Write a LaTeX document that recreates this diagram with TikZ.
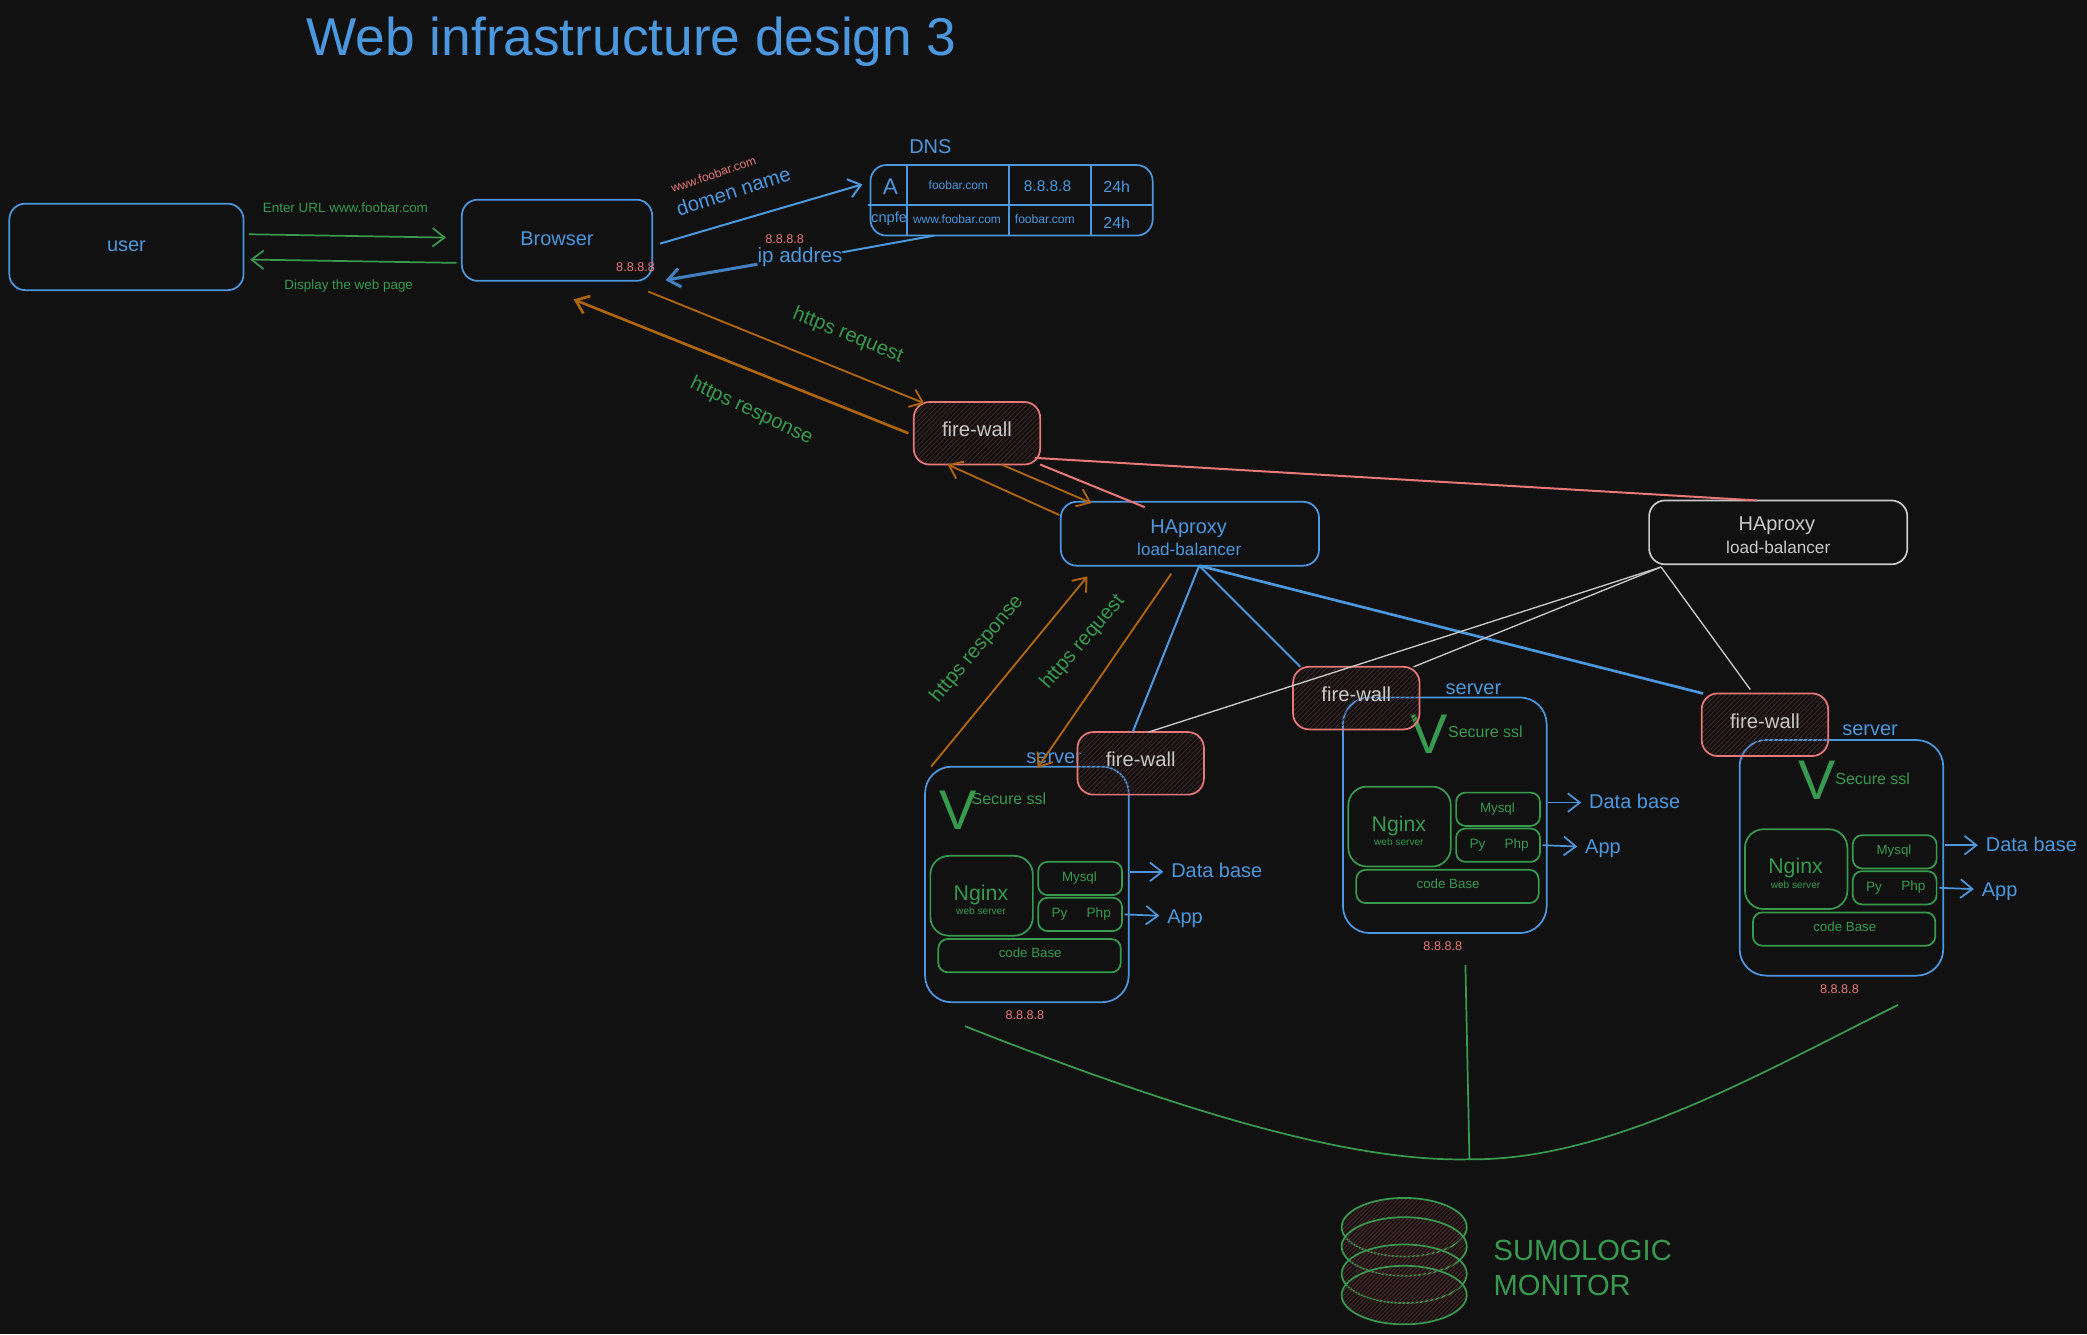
\documentclass[tikz,border=0pt]{standalone}
\usepackage{fontspec}
\setmainfont{Liberation Sans}
\usetikzlibrary{arrows.meta,patterns.meta,shapes.geometric}
\definecolor{bgdark}{HTML}{111111}
\definecolor{bluec}{HTML}{4B98DF}
\definecolor{greenc}{HTML}{379A4E}
\definecolor{redc}{HTML}{E87878}
\definecolor{orangec}{HTML}{B0650A}
\definecolor{whitec}{HTML}{C9C9C9}
\definecolor{hatchc}{HTML}{462626}
\tikzset{
  x=1pt,y=-1pt,
  >={Straight Barb[length=9pt,width=14pt]},
  txt/.style={font=\fontsize{#1}{#1}\selectfont,inner sep=0pt,outer sep=0pt},
  rbox/.style={draw,line width=1.3pt,rounded corners=#1,inner sep=0pt,outer sep=0pt},
  rbox/.default=12pt,
  bluebox/.style={rbox,draw=bluec,text=bluec},
  greenbox/.style={rbox=7pt,draw=greenc,text=greenc},
  firewall/.style={rbox,draw=redc,text=whitec,minimum width=95pt,minimum height=47pt,text depth=6pt,
    font=\fontsize{15.2}{15.2}\selectfont,
    pattern={Lines[angle=45,distance=2.6pt,line width=.6pt]},pattern color=hatchc},
  disk/.style={ellipse,draw=greenc,line width=1.3pt,minimum width=94pt,minimum height=44pt,inner sep=0pt,
    pattern={Lines[angle=45,distance=2.2pt,line width=.8pt]},pattern color=hatchc},
  greenline/.style={draw=greenc,line width=1.3pt},
  blueline/.style={draw=bluec,line width=1.5pt},
  thickblue/.style={draw=bluec!85!black,line width=2.3pt},
  orangeline/.style={draw=orangec,line width=1.4pt},
  whiteline/.style={draw=whitec,line width=1pt},
  redline/.style={draw=redc,line width=1.5pt},
}
\begin{document}
\begin{tikzpicture}
\useasboundingbox[fill=bgdark] (0,0) rectangle (1568,1002.3);
\node[txt=40,text=bluec] (title) at (474.5,31.5) {Web infrastructure design 3};

% user and browser
\node[bluebox,minimum width=176pt,minimum height=65pt] (user) at (95,185.5) {};
\node[txt=15,text=bluec] (usertxt) at (95,185) {user};
\node[bluebox,minimum width=143pt,minimum height=61pt] (browser) at (418.5,180.5) {};
\node[txt=15,text=bluec] (browsertxt) at (418.5,179.5) {Browser};
\node[txt=9.5,text=redc] (browserip) at (477.5,201) {8.8.8.8};
\draw[->,greenline] ([shift={(4,-9.5)}]user.east) -- ([shift={(-12,-2)}]browser.west);
\draw[->,greenline] ([shift={(-4,17)}]browser.west) -- ([shift={(5,9.5)}]user.east);
\node[txt=10.1,text=greenc] (urltxt) at (259.5,156) {Enter URL www.foobar.com};
\node[txt=10.1,text=greenc] (pagetxt) at (262,215) {Display the web page};

% dns
\node[txt=15,text=bluec] (dnstxt) at (699,110) {DNS};
\node[bluebox,minimum width=212pt,minimum height=53pt] (dns) at (760,150.5) {};
\foreach \dx in {27.5,104,166}
  \draw[blueline] ([xshift=\dx]dns.north west) -- ([xshift=\dx]dns.south west);
\draw[blueline] ([shift={(-2,3.5)}]dns.west) -- ([shift={(0,3.5)}]dns.east);
\node[txt=17,text=bluec] (dnsa) at (669,140) {A};
\node[txt=9,text=bluec] (dnsb) at (720,139) {foobar.com};
\node[txt=11.6,text=bluec] (dnsc) at (787,140) {8.8.8.8};
\node[txt=12,text=bluec] (dnsd) at (839,140) {24h};
\node[txt=11,text=bluec] (dnse) at (668,164) {cnpfe};
\node[txt=9,text=bluec] (dnsf) at (719,164.5) {www.foobar.com};
\node[txt=9.1,text=bluec] (dnsg) at (785,165) {foobar.com};
\node[txt=12,text=bluec] (dnsh) at (839,167) {24h};

\node[txt=15.3,text=bluec,rotate=18] (domen) at (551,143.5) {domen name};
\node[txt=9.1,text=redc,rotate=19] (wwwtxt) at (536,131) {www.foobar.com};
\draw[->,blueline] ([shift={(6,2.5)}]browser.east) -- ([shift={(-6,-12)}]dns.west);
\node[txt=15.5,text=bluec] (ipaddr) at (601,193.5) {ip addres};
\node[txt=9.5,text=redc] (iptxt) at (589.5,180) {8.8.8.8};
\draw[blueline] ([xshift=-58]dns.south) -- ([shift={(0,-4)}]ipaddr.east);
\draw[->,thickblue] ([shift={(0,5)}]ipaddr.west) -- ([shift={(10,30)}]browser.east);

% browser to fire-wall
\node[firewall] (fwa) at (734,325.5) {fire-wall};
\draw[->,orangeline] ([shift={(-3,8)}]browser.south east) -- ([shift={(8,1)}]fwa.north west);
\draw[->,draw=orangec,line width=2pt] ([xshift=-4]fwa.west) -- ([shift={(-59,14)}]browser.south east);
\node[txt=15.2,text=greenc,rotate=-22] (reqa) at (637,252) {https request};
\node[txt=15.2,text=greenc,rotate=-25] (resa) at (564.5,309) {https response};

% load balancers
\node[bluebox,minimum width=194pt,minimum height=48pt] (hapa) at (894,401) {};
\node[txt=15,text=bluec] (hapatxt) at (893,397) {HAproxy};
\node[txt=12.9,text=bluec] (hapasub) at (893.5,412.5) {load-balancer};
\node[rbox,draw=whitec,minimum width=194pt,minimum height=48pt] (hapb) at (1336,400) {};
\node[txt=15,text=whitec] (hapbtxt) at (1335,395) {HAproxy};
\node[txt=12.9,text=whitec] (hapbsub) at (1336,411) {load-balancer};
\draw[redline] ([shift={(-4,-5)}]fwa.south east) -- ([xshift=-16]hapb.north);
\draw[redline] (fwa.south east) -- ([shift={(-34,4)}]hapa.north);
\draw[->,orangeline] ([xshift=-29]fwa.south east) -- ([shift={(-74,1)}]hapa.north);
\draw[->,orangeline] ([shift={(-1,-14)}]hapa.west) -- ([xshift=-22]fwa.south);

% servers
\foreach \s/\dx/\dy in {1/0/0,2/314/-52,3/612/-20} {
  \begin{scope}[shift={(\dx,\dy)}]
    \node[bluebox,rbox=20pt,minimum width=153pt,minimum height=177pt] (srv\s) at (771.5,664.5) {};
    \node[greenbox,rbox=14pt,minimum width=77pt,minimum height=60pt] (nginx\s) at (737.5,673) {};
    \node[txt=16,text=greenc] (nginxtxt\s) at (737,672.5) {Nginx};
    \node[txt=7.6,text=greenc] (websrv\s) at (737,684.5) {web server};
    \node[txt=10,text=greenc] (mysqltxt\s) at (811,659.5) {Mysql};
    \node[greenbox,minimum width=63pt,minimum height=25pt] (mysql\s) at (811.5,660) {};
    \node[greenbox,minimum width=63pt,minimum height=25pt] (py\s) at (811.5,687) {};
    \node[txt=10.2,text=greenc] (pytxt\s) at (796,687) {Py};
    \node[txt=10.2,text=greenc] (phptxt\s) at (825.5,686.5) {Php};
    \node[greenbox,minimum width=137pt,minimum height=25pt] (code\s) at (773.5,718) {};
    \node[txt=10,text=greenc] (codetxt\s) at (774,716) {code Base};
    \node[txt=9.5,text=redc] (srvip\s) at (770,763) {8.8.8.8};
    \node[txt=15,text=bluec,anchor=west] (dbtxt\s) at (880,654) {Data base};
    \node[txt=15,text=bluec,anchor=west] (apptxt\s) at (877,690) {App};
    \draw[->,draw=bluec,line width=1.3pt] ([shift={(1,-9.5)}]srv\s.east) -- ([shift={(-6,1)}]dbtxt\s.west);
    \draw[->,draw=bluec,line width=1.3pt] ([xshift=2]py\s.east) -- ([shift={(-6,-2)}]apptxt\s.west);
  \end{scope}
}
\foreach \s/\vx/\vy/\ax/\ay/\lx/\ly in {1/720/609/758/600/792/569.5,2/1074/552/1116/550/1107/517.5,3/1365/586/1407/585/1405/548.5} {
  \node[txt=42,text=greenc] (vee\s) at (\vx,\vy) {V};
  \node[txt=12,text=greenc] (ssl\s) at (\ax,\ay) {Secure ssl};
  \node[txt=15,text=bluec] (srvtxt\s) at (\lx,\ly) {server};
}

% https labels and orange arrows
\draw[->,orangeline] ([shift={(-14,6)}]hapa.south) -- ([shift={(8,1)}]srv1.north);
\draw[->,orangeline] ([xshift=-72]srv1.north) -- ([shift={(-77,8)}]hapa.south);
\node[txt=15.2,text=greenc,rotate=50] (resb) at (734,487.5) {https response};
\node[txt=15.2,text=greenc,rotate=49] (reqb) at (813.5,482.5) {https request};

% fire-walls in front of the servers
\node[firewall] (fwb) at (857,573.5) {fire-wall};
\node[firewall] (fwc) at (1019,524.5) {fire-wall};
\node[firewall] (fwd) at (1326,544.5) {fire-wall};

\draw[blueline] ([xshift=7]hapa.south) -- ([xshift=-6]fwb.north);
\draw[blueline] ([xshift=7]hapa.south) -- ([xshift=-42]fwc.north);
\draw[draw=bluec,line width=2pt] ([xshift=7]hapa.south) -- ([xshift=1]fwd.north west);
\draw[whiteline] ([shift={(-88,2)}]hapb.south) -- ([xshift=6]fwb.north);
\draw[whiteline] ([shift={(-88,2)}]hapb.south) -- ([xshift=43]fwc.north);
\draw[whiteline] ([shift={(-88,2)}]hapb.south) -- ([shift={(-11,-3)}]fwd.north);

% monitor
\coordinate (cva) at (725,771);
\coordinate (cvb) at (1104,871);
\coordinate (cvc) at (1426,755);
\coordinate (cvd) at (1101,725);
\draw[greenline] (cva) .. controls (900,840) and (1020,873) .. (cvb)
  .. controls (1210,872) and (1325,805) .. (cvc);
\draw[greenline] (cvd) -- (cvb);
\node[disk] (diska) at (1055,922) {};
\node[disk] (diskb) at (1055,936.5) {};
\node[disk] (diskc) at (1055,957) {};
\node[disk] (diskd) at (1055,973) {};
\node[font=\fontsize{21.9}{26}\selectfont,text=greenc,align=left,anchor=west,inner sep=0pt] (sumo) at (1122,952.5) {SUMOLOGIC\\MONITOR};
\end{tikzpicture}
\end{document}
